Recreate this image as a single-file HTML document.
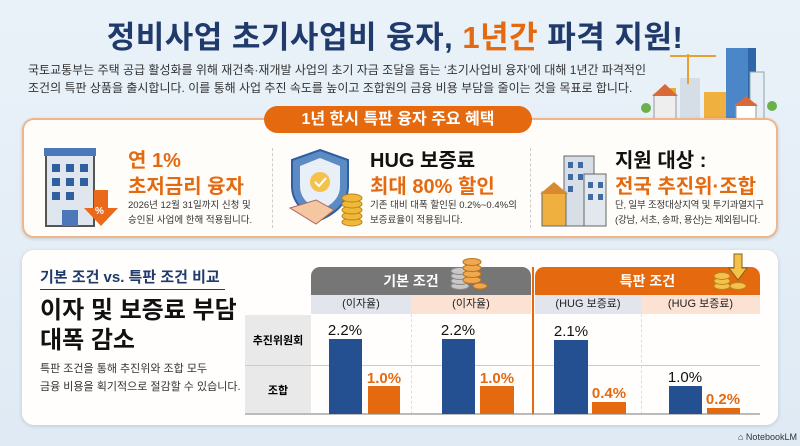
<!DOCTYPE html>
<html><head><meta charset="utf-8"><style>
*{margin:0;padding:0;box-sizing:border-box}
body{width:800px;height:446px;overflow:hidden;background:linear-gradient(#eaf2f9,#dfeaf4);font-family:"Liberation Sans","Noto Sans CJK KR",sans-serif;position:relative}
.a{position:absolute;white-space:nowrap}
.b{font-weight:bold}
.o{color:#e46a12}
.n{color:#1f3a6b}
</style></head><body>
<div class="a b n" style="left:0;width:790px;top:12px;text-align:center;font-size:31px;letter-spacing:0.5px">정비사업 초기사업비 융자, <span class="o">1년간</span> 파격 지원!</div>
<div class="a" style="left:28px;top:61px;font-size:12px;color:#333;line-height:18px">국토교통부는 주택 공급 활성화를 위해 재건축·재개발 사업의 초기 자금 조달을 돕는 ‘초기사업비 융자’에 대해 1년간 파격적인<br>조건의 특판 상품을 출시합니다. 이를 통해 사업 추진 속도를 높이고 조합원의 금융 비용 부담을 줄이는 것을 목표로 합니다.</div>
<svg class="a" style="left:640px;top:44px" width="140" height="80">
<rect x="86" y="4" width="22" height="74" fill="#4a86c8"/><rect x="108" y="4" width="8" height="74" fill="#2f66a8"/>
<rect x="110" y="28" width="14" height="50" fill="#e8eef5" stroke="#8aa" /><rect x="40" y="34" width="20" height="44" fill="#d5dde6"/>
<rect x="64" y="48" width="22" height="30" fill="#f0b040"/><rect x="30" y="44" width="6" height="34" fill="#f0a830"/>
<line x1="48" y1="10" x2="48" y2="40" stroke="#e8a030" stroke-width="2"/><line x1="30" y1="12" x2="76" y2="12" stroke="#e8a030" stroke-width="2"/>
<rect x="14" y="50" width="22" height="28" fill="#eee" stroke="#999"/><polygon points="12,52 25,40 38,52" fill="#d86a3a"/>
<rect x="96" y="60" width="20" height="18" fill="#fff" stroke="#999"/><polygon points="94,62 106,52 118,62" fill="#d86a3a"/>
<circle cx="6" cy="64" r="5" fill="#6ab04c"/><circle cx="132" cy="62" r="5" fill="#6ab04c"/>
</svg>
<div class="a" style="left:22px;top:118px;width:756px;height:120px;background:#fffdfa;border:2px solid #f0b58a;border-radius:12px;box-shadow:0 1px 3px rgba(0,0,0,.15)"></div>
<div class="a b" style="left:264px;top:106px;width:268px;height:27px;background:#e4690f;border-radius:14px;color:#fff;font-size:16px;text-align:center;line-height:27px">1년 한시 특판 융자 주요 혜택</div>
<div class="a" style="left:272px;top:148px;height:80px;border-left:1px dashed #ccc"></div>
<div class="a" style="left:530px;top:148px;height:80px;border-left:1px dashed #ccc"></div>
<svg class="a" style="left:42px;top:146px" width="80" height="82">
<rect x="4" y="6" width="48" height="74" fill="#dfe6ee" stroke="#555" stroke-width="2"/><rect x="2" y="2" width="52" height="8" fill="#4a78b8"/>
<g fill="#2f5f9f"><rect x="10" y="18" width="8" height="8"/><rect x="24" y="18" width="8" height="8"/><rect x="38" y="18" width="8" height="8"/><rect x="10" y="32" width="8" height="8"/><rect x="24" y="32" width="8" height="8"/><rect x="38" y="32" width="8" height="8"/><rect x="10" y="46" width="8" height="8"/><rect x="24" y="46" width="8" height="8"/></g>
<rect x="20" y="64" width="16" height="16" fill="#4a78b8"/>
<polygon points="52,44 66,44 66,62 76,62 59,80 42,62 52,62" fill="#e86a1a"/><text x="53" y="68" font-size="10" fill="#fff" font-weight="bold">%</text>
</svg>
<div class="a b o" style="left:128px;top:148px;font-size:20px;line-height:26px">연 1%<br>초저금리 융자</div>
<div class="a" style="left:128px;top:198px;font-size:9.5px;color:#333;line-height:15px">2026년 12월 31일까지 신청 및<br>승인된 사업에 한해 적용됩니다.</div>
<svg class="a" style="left:286px;top:146px" width="80" height="82">
<path d="M34 4 L62 14 L62 40 Q62 62 34 74 Q6 62 6 40 L6 14 Z" fill="#5c8ac4" stroke="#2f5f9f" stroke-width="2"/>
<path d="M34 12 L54 20 L54 40 Q54 56 34 64 Q14 56 14 40 L14 20 Z" fill="#e9eff7"/>
<circle cx="34" cy="36" r="10" fill="#f4c24a"/><path d="M29 36 l4 4 l7 -8" stroke="#fff" stroke-width="2" fill="none"/>
<path d="M4 62 L30 54 L48 64 L30 78 Z" fill="#f5c7a0" stroke="#a66" stroke-width="1"/>
<g fill="#f0b838" stroke="#b88420"><ellipse cx="66" cy="76" rx="10" ry="4"/><ellipse cx="66" cy="70" rx="10" ry="4"/><ellipse cx="66" cy="64" rx="10" ry="4"/><ellipse cx="66" cy="58" rx="10" ry="4"/><ellipse cx="66" cy="52" rx="10" ry="4"/></g>
</svg>
<div class="a b" style="left:370px;top:148px;font-size:20px;line-height:26px;color:#111">HUG 보증료<br><span class="o">최대 80% 할인</span></div>
<div class="a" style="left:370px;top:198px;font-size:9.5px;color:#333;line-height:15px">기존 대비 대폭 할인된 0.2%~0.4%의<br>보증료율이 적용됩니다.</div>
<svg class="a" style="left:540px;top:152px" width="76" height="76">
<rect x="24" y="4" width="30" height="70" fill="#d8dee6" stroke="#666"/><rect x="44" y="22" width="22" height="52" fill="#e3e8ee" stroke="#666"/>
<g fill="#3f6aa4"><rect x="28" y="10" width="5" height="6"/><rect x="38" y="10" width="5" height="6"/><rect x="28" y="22" width="5" height="6"/><rect x="38" y="22" width="5" height="6"/><rect x="28" y="34" width="5" height="6"/><rect x="48" y="30" width="5" height="6"/><rect x="58" y="30" width="5" height="6"/><rect x="48" y="42" width="5" height="6"/><rect x="58" y="42" width="5" height="6"/></g>
<rect x="2" y="40" width="24" height="34" fill="#f0b040" stroke="#666"/><polygon points="0,42 14,30 28,42" fill="#d88a30"/>
</svg>
<div class="a b" style="left:615px;top:148px;font-size:20px;line-height:26px;color:#111">지원 대상 :<br><span class="o">전국 추진위·조합</span></div>
<div class="a" style="left:615px;top:198px;font-size:9.5px;color:#333;line-height:15px;letter-spacing:-0.2px">단, 일부 조정대상지역 및 투기과열지구<br>(강남, 서초, 송파, 용산)는 제외됩니다.</div>
<div class="a" style="left:22px;top:250px;width:756px;height:175px;background:#fffefd;border-radius:12px;box-shadow:0 1px 4px rgba(0,0,0,.15)"></div>
<div class="a b n" style="left:40px;top:266px;font-size:15px">기본 조건 vs. 특판 조건 비교</div>
<div class="a" style="left:40px;top:289px;width:185px;border-top:1px solid #1f3a6b"></div>
<div class="a b" style="left:40px;top:296px;font-size:24px;line-height:30px;color:#111">이자 및 보증료 부담<br>대폭 감소</div>
<div class="a" style="left:40px;top:360px;font-size:11px;color:#333;line-height:18px">특판 조건을 통해 추진위와 조합 모두<br>금융 비용을 획기적으로 절감할 수 있습니다.</div>
<div class="a b" style="left:311px;top:267px;width:220px;height:28px;background:#767676;border-radius:9px 9px 0 0;color:#fff;font-size:14px;line-height:28px;text-align:center;padding-right:20px">기본 조건</div>
<div class="a b" style="left:535px;top:267px;width:225px;height:28px;background:#e4690f;border-radius:9px 9px 0 0;color:#fff;font-size:14px;line-height:28px;text-align:center">특판 조건</div>
<svg class="a" style="left:448px;top:258px" width="40" height="34"><g stroke="#888" fill="#c8c8c8"><ellipse cx="12" cy="28" rx="9" ry="3.5"/><ellipse cx="12" cy="23" rx="9" ry="3.5"/><ellipse cx="12" cy="18" rx="9" ry="3.5"/><ellipse cx="12" cy="13" rx="9" ry="3.5"/></g><g stroke="#b8741e" fill="#f0a850"><ellipse cx="24" cy="22" rx="9" ry="3.5"/><ellipse cx="24" cy="16" rx="9" ry="3.5"/><ellipse cx="24" cy="10" rx="9" ry="3.5"/><ellipse cx="24" cy="4" rx="9" ry="3.5"/><ellipse cx="32" cy="28" rx="7" ry="3"/></g></svg>
<svg class="a" style="left:712px;top:252px" width="40" height="40"><g stroke="#b88420" fill="#f4c24a"><ellipse cx="10" cy="34" rx="8" ry="3.5"/><ellipse cx="10" cy="29" rx="8" ry="3.5"/><ellipse cx="10" cy="24" rx="8" ry="3.5"/><ellipse cx="26" cy="34" rx="8" ry="3.5"/></g><polygon points="22,2 30,2 30,16 35,16 26,28 17,16 22,16" fill="#f4c24a" stroke="#8a6010"/></svg>
<div class="a" style="left:311px;top:295px;width:100px;height:19px;background:#e2e6ec;font-size:11px;line-height:19px;text-align:center;color:#222">(이자율)</div>
<div class="a" style="left:411px;top:295px;width:120px;height:19px;background:#fbe2d3;font-size:11px;line-height:19px;text-align:center;color:#222">(이자율)</div>
<div class="a" style="left:535px;top:295px;width:106px;height:19px;background:#e2e6ec;font-size:11px;line-height:19px;text-align:center;color:#222">(HUG 보증료)</div>
<div class="a" style="left:641px;top:295px;width:119px;height:19px;background:#fbe2d3;font-size:11px;line-height:19px;text-align:center;color:#222">(HUG 보증료)</div>
<div class="a" style="left:245px;top:315px;width:66px;height:99px;background:#e9e9e9"></div>
<div class="a b" style="left:245px;top:332px;width:66px;text-align:center;font-size:11px">추진위원회</div>
<div class="a b" style="left:245px;top:382px;width:66px;text-align:center;font-size:11px">조합</div>
<div class="a" style="left:245px;top:365px;width:515px;border-top:1px solid #ccc"></div>
<div class="a" style="left:411px;top:314px;height:100px;border-left:1px dashed #ddd"></div>
<div class="a" style="left:641px;top:314px;height:100px;border-left:1px dashed #ddd"></div>
<div class="a" style="left:245px;top:413px;width:515px;border-top:2px solid #bbb"></div>
<div class="a" style="left:532px;top:267px;width:2px;height:147px;background:#e4690f"></div>
<div class="a" style="left:329px;top:339px;width:33px;height:75px;background:#244f91"></div>
<div class="a" style="left:368px;top:386px;width:32px;height:28px;background:#e4690f"></div>
<div class="a" style="left:442px;top:339px;width:33px;height:75px;background:#244f91"></div>
<div class="a" style="left:480px;top:386px;width:34px;height:28px;background:#e4690f"></div>
<div class="a" style="left:554px;top:340px;width:34px;height:74px;background:#244f91"></div>
<div class="a" style="left:592px;top:402px;width:34px;height:12px;background:#e4690f"></div>
<div class="a" style="left:669px;top:386px;width:33px;height:28px;background:#244f91"></div>
<div class="a" style="left:707px;top:408px;width:33px;height:6px;background:#e4690f"></div>
<div class="a" style="left:322px;top:322px;width:46px;text-align:center;font-size:15px;color:#111">2.2%</div>
<div class="a b o" style="left:361px;top:370px;width:46px;text-align:center;font-size:15px">1.0%</div>
<div class="a" style="left:435px;top:322px;width:46px;text-align:center;font-size:15px;color:#111">2.2%</div>
<div class="a b o" style="left:474px;top:370px;width:46px;text-align:center;font-size:15px">1.0%</div>
<div class="a" style="left:548px;top:323px;width:46px;text-align:center;font-size:15px;color:#111">2.1%</div>
<div class="a b o" style="left:586px;top:385px;width:46px;text-align:center;font-size:15px">0.4%</div>
<div class="a" style="left:662px;top:369px;width:46px;text-align:center;font-size:15px;color:#111">1.0%</div>
<div class="a b o" style="left:700px;top:391px;width:46px;text-align:center;font-size:15px">0.2%</div>
<div class="a" style="left:738px;top:432px;font-size:9px;color:#333">⌂ NotebookLM</div>
</body></html>
